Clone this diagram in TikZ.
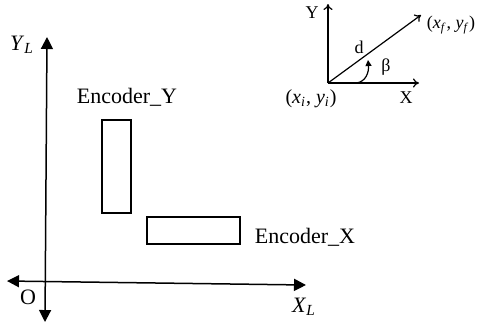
\documentclass[tikz,border=0pt]{standalone}
\usepackage{fontspec}
\setmainfont{Liberation Serif}
\usetikzlibrary{arrows.meta}
\tikzset{
  bigaxis/.style={line width=0.75pt, {Triangle[length=6pt,width=6pt]}-{Triangle[length=6pt,width=6pt]}},
  smallaxis/.style={line width=0.6pt, -{To[length=3pt,width=4.5pt]}},
  encbox/.style={line width=1pt},
  lbl/.style={inner sep=0pt, font=\fontsize{11}{13}\selectfont},
  slbl/.style={inner sep=0pt, font=\fontsize{9}{11}\selectfont},
  tlbl/.style={inner sep=0pt, font=\fontsize{10}{12}\selectfont},
}
\begin{document}
\begin{tikzpicture}[x=0.5pt,y=-0.5pt]
\useasboundingbox (0,0) rectangle (481,329);
% main axes
\coordinate (vt) at (47,37);
\coordinate (vb) at (45,322);
\coordinate (hl) at (7,281);
\coordinate (hr) at (306,285);
\draw[bigaxis] (vb) -- (vt);
\draw[bigaxis] (hl) -- (hr);
\node[lbl] (yl) at (22,45) {\textit{Y}\textsubscript{\textit{L}}};
\node[lbl] (xl) at (304,307) {\textit{X}\textsubscript{\textit{L}}};
\node[lbl] (o) at (28,297) {O};
% encoders
\draw[encbox] (102,120) rectangle (131,213);
\draw[encbox] (147,217) rectangle (240,244);
\node[lbl] (ey) at (127,97) {Encoder\_Y};
\node[lbl] (ex) at (305,237) {Encoder\_X};
% top-right sketch
\coordinate (org) at (328,83);
\coordinate (yt) at (328,4);
\coordinate (xt) at (419,83);
\coordinate (ft) at (421,15);
\draw[smallaxis] (org) -- (yt);
\draw[smallaxis] (org) -- (xt);
\draw[smallaxis] (org) -- (ft);
\coordinate (as) at (356,83);
\coordinate (ae) at (368,60);
\draw[line width=0.6pt, -{Triangle[length=3pt,width=3pt]}] (as) .. controls (366,82) and (369,72) .. (ae);
\node[slbl] (ylab) at (312,13) {Y};
\node[slbl] (xlab) at (406,98) {X};
\node[slbl] (dlab) at (359,47) {d};
\node[slbl] (blab) at (386,67) {β};
\node[slbl] (xf) at (451,25) {(\textit{x}\textsubscript{\textit{f}}, \textit{y}\textsubscript{\textit{f}})};
\node[tlbl] (xi) at (311,99) {(\textit{x}\textsubscript{\textit{i}}, \textit{y}\textsubscript{\textit{i}})};
\end{tikzpicture}
\end{document}
